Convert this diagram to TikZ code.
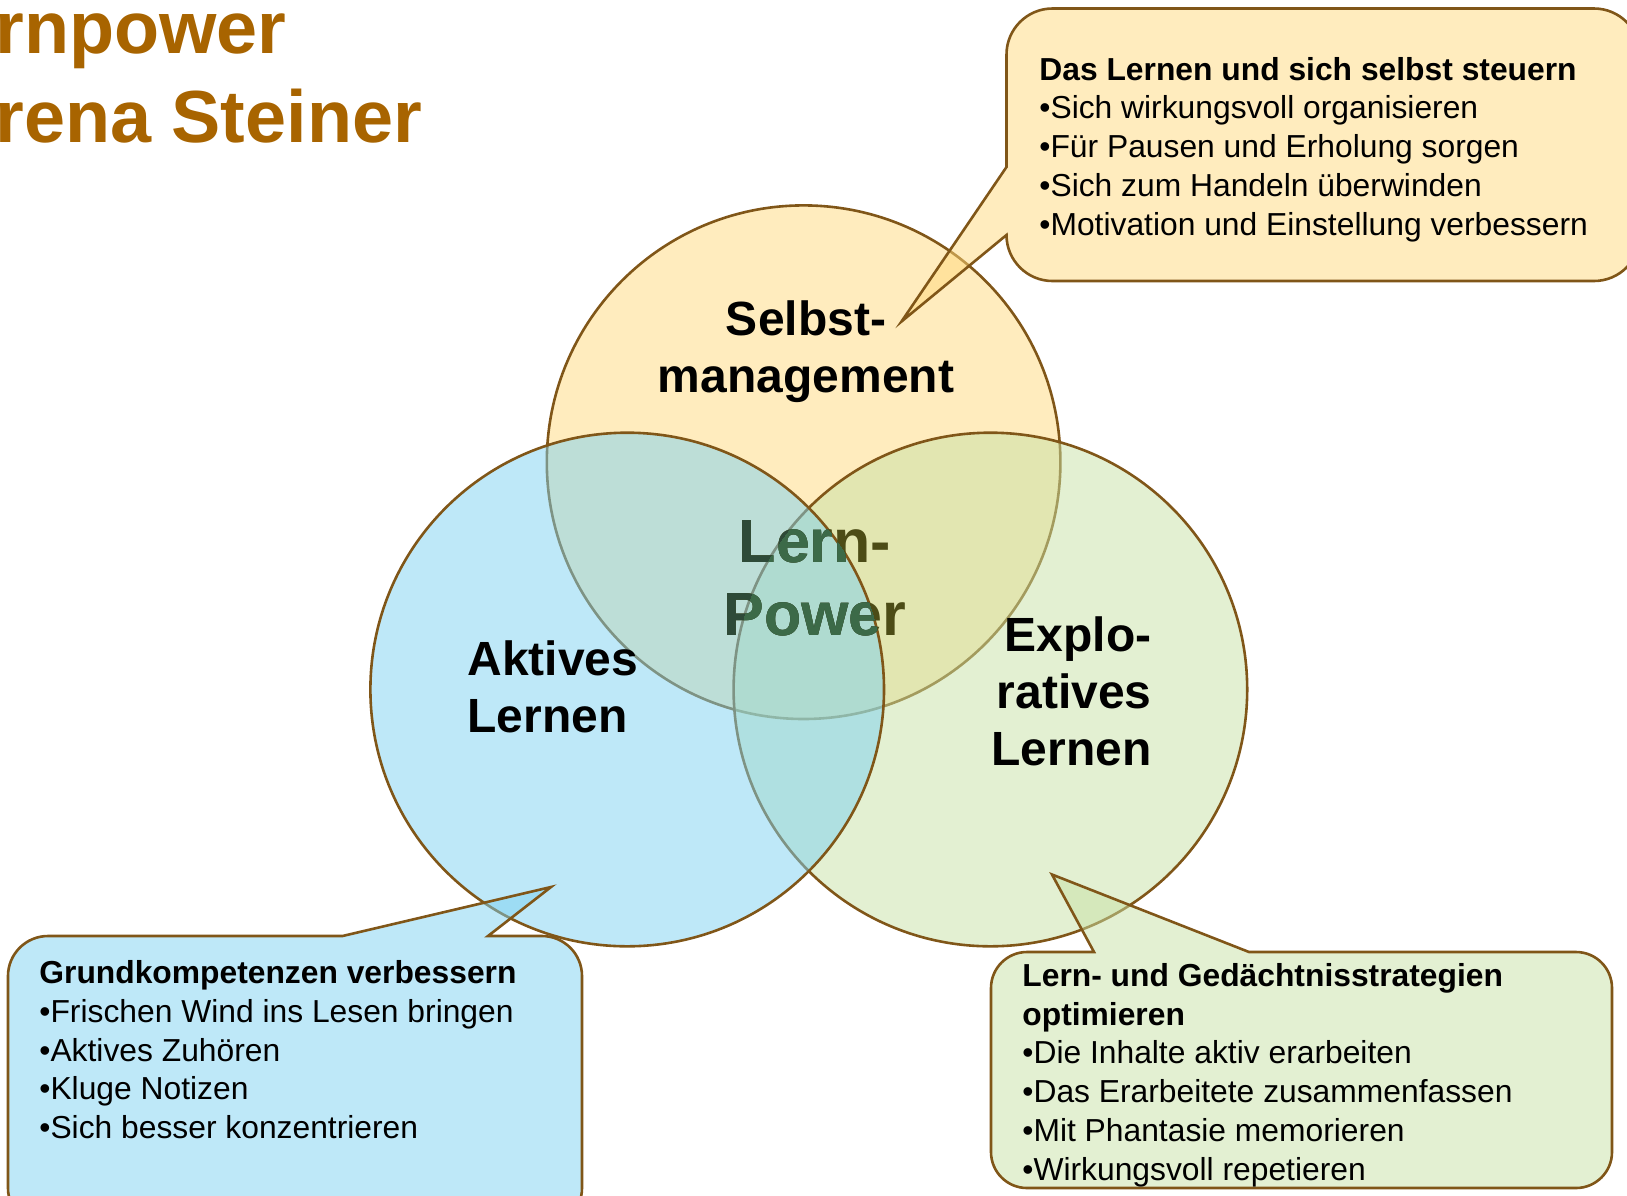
\documentclass[tikz,border=0pt]{standalone}
\usepackage{fontspec}
\setmainfont{Liberation Sans}

\definecolor{sunfill}{RGB}{255,217,125}
\definecolor{skyfill}{RGB}{125,209,241}
\definecolor{leaffill}{RGB}{199,225,165}
\definecolor{rim}{RGB}{128,86,24}
\definecolor{rust}{RGB}{168,100,0}
\definecolor{coreolive}{RGB}{76,76,22}
\definecolor{coredark}{RGB}{46,74,56}
\definecolor{coremid}{RGB}{60,106,72}

\tikzset{
 ring/.style={draw=rim,line width=1.3pt,fill=#1,fill opacity=0.5},
 bubble/.style={draw=rim,line width=1.3pt,fill=#1,fill opacity=0.5},
 biglabel/.style={font=\fontsize{24}{28.5}\selectfont\bfseries,inner sep=0pt},
 corelabel/.style={font=\fontsize{30.5}{36.5}\selectfont\bfseries,inner sep=0pt,
   align=center,anchor=base,text=#1},
 notes/.style={font=\fontsize{15.9}{19.35}\selectfont,inner sep=0pt,align=left,anchor=base west},
}

\begin{document}
\begin{tikzpicture}[x=0.5pt,y=-0.5pt]
\clip (0,0) rectangle (1627,1195);

\def\r {256.8}
\coordinate (sm) at (803.6,462.2);
\coordinate (al) at (627.2,689.5);
\coordinate (el) at (990.4,689.5);

% three rings, blue one on top
\filldraw[ring=sunfill] (sm) circle[radius=\r];
\filldraw[ring=leaffill] (el) circle[radius=\r];
\filldraw[ring=skyfill] (al) circle[radius=\r];

% centre word, tinted by the ring below it
\node[corelabel=coreolive] (core) at (815,635) {Lern-\\Power};
\begin{scope}
 \clip (al) circle[radius=\r];
 \node[corelabel=coredark] (coreb) at (815,635) {Lern-\\Power};
 \clip (el) circle[radius=\r];
 \node[corelabel=coremid] (corec) at (815,635) {Lern-\\Power};
\end{scope}

\node[biglabel,align=center,anchor=base] (selbst) at (806,392) {Selbst-\\management};
\node[biglabel,align=left,anchor=base west] (aktiv) at (467,732) {Aktives\\Lernen};
\node[biglabel,align=right,anchor=base east] (explo) at (1152,765) {Explo-\\ratives\\Lernen};

% callouts: tip, pointer base, four rounded corners, pointer base
\filldraw[bubble=sunfill] (901.5,321.5) -- (1006.5,235)
  [rounded corners=23pt] -- (1006.5,281) -- (1640,281) -- (1640,8.5)
  -- (1006.5,8.5) [sharp corners] -- (1006.5,167) -- cycle;
\filldraw[bubble=skyfill] (551,887) -- (488,936)
  [rounded corners=20pt] -- (582,936) -- (582,1228) -- (8,1228)
  -- (8,936) [sharp corners] -- (342.5,936) -- cycle;
\filldraw[bubble=leaffill] (1052,874.5) -- (1249,952)
  [rounded corners=18pt] -- (1612,952) -- (1612,1188) -- (991,1188)
  -- (991,952) [sharp corners] -- (1094,952) -- cycle;

\node[notes] (selbsttxt) at (1039,235) {\textbf{Das Lernen und sich selbst steuern}\\
 •Sich wirkungsvoll organisieren\\
 •Für Pausen und Erholung sorgen\\
 •Sich zum Handeln überwinden\\
 •Motivation und Einstellung verbessern};
\node[notes] (aktivtxt) at (39,1138.5) {\textbf{Grundkompetenzen verbessern}\\
 •Frischen Wind ins Lesen bringen\\
 •Aktives Zuhören\\
 •Kluge Notizen\\
 •Sich besser konzentrieren};
\node[notes] (explotxt) at (1022,1180) {\textbf{Lern- und Gedächtnisstrategien}\\
 \textbf{optimieren}\\
 •Die Inhalte aktiv erarbeiten\\
 •Das Erarbeitete zusammenfassen\\
 •Mit Phantasie memorieren\\
 •Wirkungsvoll repetieren};

% title, cut at the left edge
\node[font=\fontsize{36.9}{44.5}\selectfont\bfseries,text=rust,inner sep=0pt,
      align=left,anchor=base west] (title) at (-5,142) {rnpower\\rena Steiner};
\end{tikzpicture}
\end{document}
